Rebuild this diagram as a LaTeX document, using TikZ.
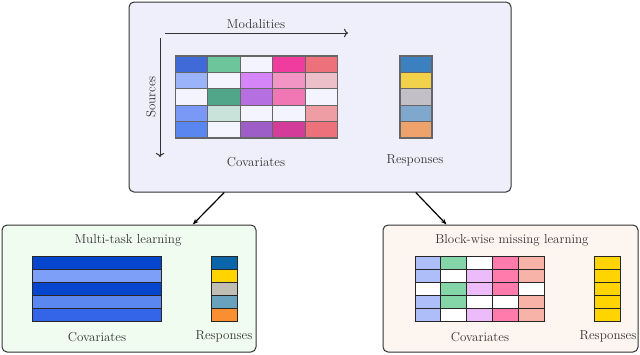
\documentclass[tikz,border=0pt]{standalone}
\usepackage{xcolor}
\usepackage{tikz}
\usetikzlibrary{arrows.meta,calc}
% panel backgrounds
\definecolor{topbg}{HTML}{EFEFFB}
\definecolor{mtlbg}{HTML}{EFFCEF}
\definecolor{bwmbg}{HTML}{FDF5EF}
\definecolor{ink}{HTML}{333333}
% top covariates
\definecolor{tno}{HTML}{F4F4FE}
\definecolor{ta1}{HTML}{3F6AD8}
\definecolor{ta2}{HTML}{9BB4F9}
\definecolor{ta4}{HTML}{7A98F6}
\definecolor{ta5}{HTML}{5A86EF}
\definecolor{tb1}{HTML}{6CC59B}
\definecolor{tb3}{HTML}{51A68A}
\definecolor{tb4}{HTML}{C9E3DB}
\definecolor{tc2}{HTML}{D585F7}
\definecolor{tc3}{HTML}{B56FE1}
\definecolor{tc5}{HTML}{9D5EC7}
\definecolor{td1}{HTML}{F03C9F}
\definecolor{td2}{HTML}{F295C5}
\definecolor{td3}{HTML}{F077B3}
\definecolor{td5}{HTML}{D43C99}
\definecolor{te1}{HTML}{EC717A}
\definecolor{te2}{HTML}{EDBFC9}
\definecolor{te4}{HTML}{EE9DA4}
% top responses
\definecolor{tr1}{HTML}{3B80BF}
\definecolor{tr2}{HTML}{F3D24B}
\definecolor{tr3}{HTML}{C3BFC7}
\definecolor{tr4}{HTML}{7FA8CC}
\definecolor{tr5}{HTML}{EEA36C}
% multi-task
\definecolor{ma}{HTML}{0646CE}
\definecolor{mb}{HTML}{7E9FF7}
\definecolor{mc}{HTML}{5B87F1}
\definecolor{md}{HTML}{3465E8}
\definecolor{mr1}{HTML}{0A66A8}
\definecolor{mr2}{HTML}{FFD400}
\definecolor{mr3}{HTML}{C0BDB5}
\definecolor{mr4}{HTML}{6AA2BE}
\definecolor{mr5}{HTML}{F98F30}
% block-wise
\definecolor{ba}{HTML}{ADBEF8}
\definecolor{bb}{HTML}{84D6A8}
\definecolor{bc}{HTML}{EDBAFA}
\definecolor{bd}{HTML}{FF7BAC}
\definecolor{be}{HTML}{F8B3A9}
\tikzset{
  panel/.style={draw=ink, line width=1pt, rounded corners=5pt, inner sep=0pt},
  tcell/.style={draw=black!60, line width=1.1pt, inner sep=0pt, outer sep=0pt, anchor=north west},
  bcell/.style={draw=black!85, line width=1pt, inner sep=0pt, outer sep=0pt, anchor=north west},
  lbl/.style={text=ink, font=\fontsize{13}{15}\selectfont},
  axis/.style={draw=ink, line width=1pt, -{To[length=4pt]}},
  ar/.style={draw=black, line width=1.2pt, -{Stealth[length=6pt]}},
}
\begin{document}
\begin{tikzpicture}[x=1pt,y=-1pt]
\useasboundingbox (0,0) rectangle (640,354);
% panels
\node[panel, fill=topbg, minimum width=382pt, minimum height=190pt] (top) at (320,97) {};
\node[panel, fill=mtlbg, minimum width=254pt, minimum height=127pt] (mtl) at (129,288.5) {};
\node[panel, fill=bwmbg, minimum width=255pt, minimum height=127pt] (bwm) at (510.5,288.5) {};
% top: modalities x sources
\coordinate (modfrom) at (165,33);
\coordinate (modto) at (348,33);
\coordinate (srcfrom) at (160,38);
\coordinate (srcto) at (160,157);
\draw[axis] (modfrom) -- (modto);
\draw[axis] (srcfrom) -- (srcto);
\node[lbl] (modlbl) at (256,24) {Modalities};
\node[lbl, rotate=90] (srclbl) at (151,97) {Sources};
\foreach \row [count=\j from 0] in {{ta1,tb1,tno,td1,te1},{ta2,tno,tc2,td2,te2},{tno,tb3,tc3,td3,tno},{ta4,tb4,tno,tno,te4},{ta5,tno,tc5,td5,te1}}
  \foreach \c [count=\i from 0] in \row
    \node[tcell, fill=\c, minimum width=32.4pt, minimum height=16.4pt] (tcov-\j-\i) at (175.5+32.4*\i,56+16.4*\j) {};
\foreach \c [count=\j from 0] in {tr1,tr2,tr3,tr4,tr5}
  \node[tcell, fill=\c, minimum width=32pt, minimum height=16.4pt] (tres-\j) at (400,56+16.4*\j) {};
\node[lbl] (tcovlbl) at (256,162) {Covariates};
\node[lbl] (treslbl) at (415,160) {Responses};
% multi-task learning
\node[lbl] (mtltitle) at (128,240) {Multi-task learning};
\foreach \c [count=\j from 0] in {ma,mb,ma,mc,md}
  \node[bcell, fill=\c, minimum width=129pt, minimum height=13pt] (mcov-\j) at (32,256+13*\j) {};
\foreach \c [count=\j from 0] in {mr1,mr2,mr3,mr4,mr5}
  \node[bcell, fill=\c, minimum width=26pt, minimum height=13pt] (mres-\j) at (211,256+13*\j) {};
\node[lbl] (mcovlbl) at (97,337) {Covariates};
\node[lbl] (mreslbl) at (224,336) {Responses};
% block-wise missing learning
\node[lbl] (bwmtitle) at (512,240) {Block-wise missing learning};
\foreach \row [count=\j from 0] in {{ba,bb,white,bd,be},{ba,white,bc,bd,be},{white,bb,bc,bd,white},{ba,bb,white,white,be},{ba,white,bc,bd,be}}
  \foreach \c [count=\i from 0] in \row
    \node[bcell, fill=\c, minimum width=25.8pt, minimum height=13pt] (bcov-\j-\i) at (415+25.8*\i,256+13*\j) {};
\foreach \j in {0,...,4}
  \node[bcell, fill=mr2, minimum width=26pt, minimum height=13pt] (bres-\j) at (594,256+13*\j) {};
\node[lbl] (bcovlbl) at (480,337) {Covariates};
\node[lbl] (breslbl) at (608,336) {Responses};
% arrows
\draw[ar] ($(top.south west)!0.25!(top.south east)$) -- ($(mtl.north west)!0.75!(mtl.north east)$);
\draw[ar] ($(top.south west)!0.75!(top.south east)$) -- ($(bwm.north west)!0.25!(bwm.north east)$);
\end{tikzpicture}
\end{document}
